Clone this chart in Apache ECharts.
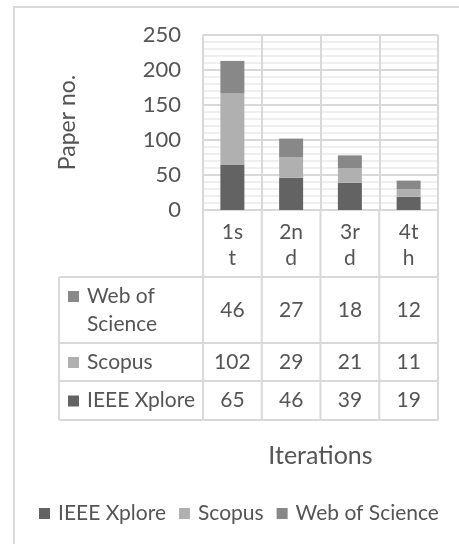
<!DOCTYPE html>
<html>
<head>
<meta charset="utf-8">
<script src="https://cdn.jsdelivr.net/npm/echarts@6/dist/echarts.min.js"></script>
<style>
  html, body { margin: 0; padding: 0; background: #fff; }
  #main { width: 459px; height: 544px; }
</style>
</head>
<body>
<div id="main"></div>
<script>
  // data
  var categories = ['1st', '2nd', '3rd', '4th'];
  var ieee = [65, 46, 39, 19];
  var scopus = [102, 29, 21, 11];
  var wos = [46, 27, 18, 12];
  var seriesNames = ['IEEE Xplore', 'Scopus', 'Web of Science'];
  var colors = ['#636363', '#b0b0b0', '#888888'];

  var FONT = 'Lato';
  var TXT = '#555555';
  var LINE = '#d9d9d9';

  // table rows from top to bottom (offsets below the x axis)
  var tableRows = [
    { name: ['Web of', 'Science'], vals: wos, color: colors[2], top: 67, bottom: 133 },
    { name: ['Scopus'], vals: scopus, color: colors[1], top: 133, bottom: 171 },
    { name: ['IEEE Xplore'], vals: ieee, color: colors[0], top: 171, bottom: 210 }
  ];
  var headLeft = 144;  // width of the row-name column

  function txt(s, x, y, align) {
    return {
      type: 'text',
      style: {
        text: s, x: x, y: y, align: align || 'center', verticalAlign: 'middle',
        fill: TXT, fontSize: 21, fontFamily: FONT
      }
    };
  }
  function ln(x1, y1, x2, y2) {
    return {
      type: 'line',
      shape: { x1: x1, y1: y1, x2: x2, y2: y2 },
      style: { stroke: LINE, lineWidth: 2 }
    };
  }

  function renderTable(params, api) {
    var i = api.value(0);
    var p = api.coord([i, 0]);
    var w = api.size([1, 0])[0];
    var cx = p[0], y0 = p[1];
    var xl = cx - w / 2, xr = cx + w / 2;
    var kids = [];
    var lastBottom = tableRows[tableRows.length - 1].bottom;

    // category label, wrapped like the narrow cell does
    var c = categories[i];
    kids.push(txt(c.slice(0, 2), cx, y0 + 22));
    kids.push(txt(c.slice(2), cx, y0 + 48));

    kids.push(ln(xr, y0, xr, y0 + lastBottom));
    if (i === 0) kids.push(ln(xl, y0, xl, y0 + lastBottom));

    tableRows.forEach(function (r) {
      kids.push(txt(String(r.vals[i]), cx, y0 + (r.top + r.bottom) / 2));
      kids.push(ln(xl - (i === 0 ? headLeft : 0), y0 + r.bottom, xr, y0 + r.bottom));
      if (r === tableRows[0]) kids.push(ln(xl - (i === 0 ? headLeft : 0), y0 + r.top, xr, y0 + r.top));
      if (i === 0) {
        var hx = xl - headLeft;
        var mid = y0 + (r.top + r.bottom) / 2;
        var firstY = r.name.length > 1 ? mid - 14 : mid;
        kids.push({
          type: 'rect',
          shape: { x: hx + 9, y: firstY - 5, width: 11, height: 11 },
          style: { fill: r.color }
        });
        r.name.forEach(function (s, k) {
          kids.push(txt(s, hx + 28, firstY + k * 28, 'left'));
        });
      }
    });
    if (i === 0) {
      kids.push(ln(xl - headLeft, y0 + tableRows[0].top, xl - headLeft, y0 + lastBottom));
    }
    return { type: 'group', children: kids };
  }

  var myChart = echarts.init(document.getElementById('main'));

  var option = {
    animation: false,
    backgroundColor: '#fff',
    textStyle: { fontFamily: FONT, color: TXT },
    graphic: [{
      type: 'rect',
      shape: { x: 14, y: 7, width: 470, height: 560 },
      style: { fill: 'none', stroke: LINE, lineWidth: 2 },
      silent: true
    }],
    grid: { left: 203, top: 35, width: 235, height: 175 },
    legend: {
      data: seriesNames,
      left: 34,
      top: 498,
      icon: 'rect',
      itemWidth: 11,
      itemHeight: 11,
      itemGap: 13,
      textStyle: { fontFamily: FONT, fontSize: 21, color: TXT, padding: [0, 0, 0, 3] }
    },
    xAxis: {
      type: 'category',
      data: categories,
      name: 'Iterations',
      nameLocation: 'middle',
      nameGap: 233,
      nameTextStyle: { fontFamily: FONT, fontSize: 25, color: TXT },
      axisLine: { lineStyle: { color: LINE, width: 2 } },
      axisTick: { show: false },
      axisLabel: { show: false },
      splitLine: { show: true, lineStyle: { color: LINE, width: 2 } }
    },
    yAxis: {
      type: 'value',
      min: 0,
      max: 250,
      interval: 50,
      name: 'Paper no.',
      nameLocation: 'middle',
      nameRotate: 90,
      nameGap: 124,
      nameTextStyle: { fontFamily: FONT, fontSize: 23, color: TXT },
      axisLine: { show: false },
      axisTick: { show: false },
      axisLabel: { margin: 22, fontFamily: FONT, fontSize: 22, color: TXT },
      splitLine: { lineStyle: { color: LINE, width: 2 } },
      minorTick: { show: false, splitNumber: 5 },
      minorSplitLine: { show: true, lineStyle: { color: '#efefef', width: 2 } }
    },
    series: [
      { name: seriesNames[0], type: 'bar', stack: 'p', data: ieee, barWidth: 24, itemStyle: { color: colors[0] } },
      { name: seriesNames[1], type: 'bar', stack: 'p', data: scopus, barWidth: 24, itemStyle: { color: colors[1] } },
      { name: seriesNames[2], type: 'bar', stack: 'p', data: wos, barWidth: 24, itemStyle: { color: colors[2] } },
      {
        type: 'custom',
        silent: true,
        renderItem: renderTable,
        encode: { x: 0, y: 1 },
        data: categories.map(function (c, i) { return [i, 0]; }),
        z: 1
      }
    ]
  };

  myChart.setOption(option);
</script>
</body>
</html>
